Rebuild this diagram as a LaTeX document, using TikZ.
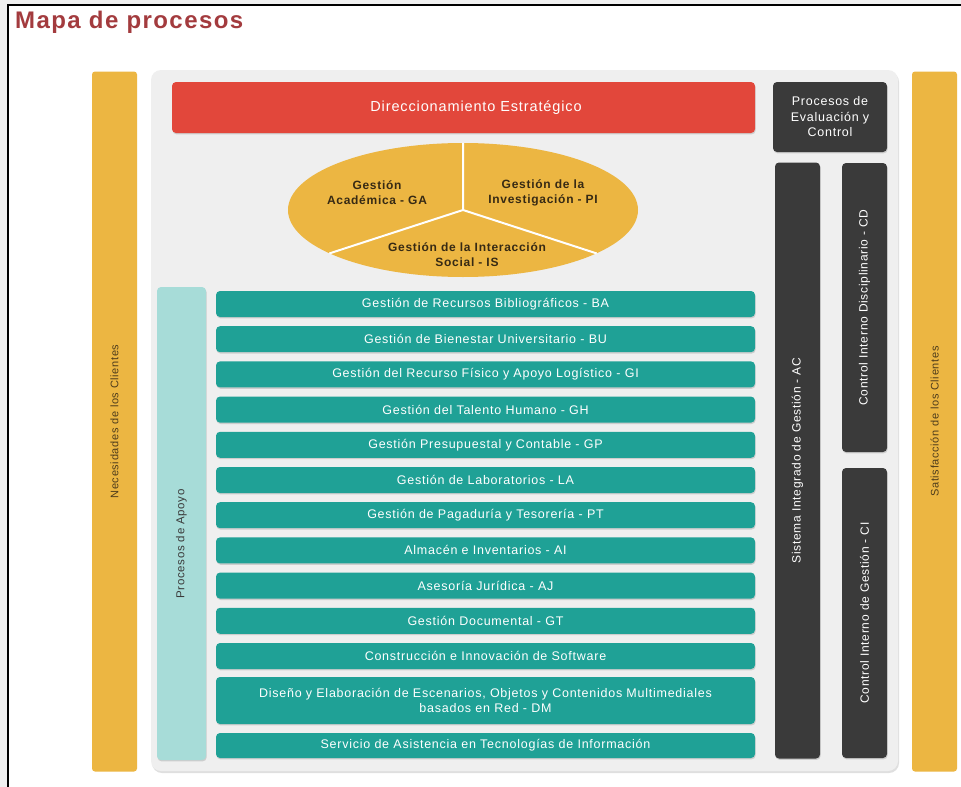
\documentclass[tikz,border=0pt]{standalone}
\usepackage{fontspec}
\setmainfont{Liberation Sans}[LetterSpace=6]
\usetikzlibrary{shapes.geometric,shadows}

\definecolor{fondo}{RGB}{240,240,240}
\definecolor{amarillo}{RGB}{236,182,66}
\definecolor{gris}{RGB}{239,239,239}
\definecolor{rojo}{RGB}{226,71,59}
\definecolor{oscuro}{RGB}{58,58,58}
\definecolor{verde}{RGB}{31,161,150}
\definecolor{verdeclaro}{RGB}{167,220,216}
\definecolor{titulo}{RGB}{163,59,62}
\definecolor{cafe}{RGB}{78,60,28}

\begin{document}
\begin{tikzpicture}[
    x=1pt, y=-1pt,
    sombra/.style={drop shadow={shadow xshift=.6pt, shadow yshift=-1.4pt, opacity=.3}},
    franja/.style={fill=amarillo, rounded corners=3pt, minimum width=45pt, minimum height=700pt, inner sep=0pt},
    texto franja/.style={rotate=90, text=cafe, font=\fontsize{11}{13}\selectfont},
    panel/.style={fill=gris, rounded corners=10pt, minimum width=747pt, minimum height=701pt,
        drop shadow={shadow xshift=1pt, shadow yshift=-2pt, opacity=.25}},
    caja/.style={sombra, rounded corners=4pt, inner sep=0pt, text=white},
    texto caja/.style={text=white, inner sep=0pt},
    columna/.style={caja, fill=oscuro, minimum width=45pt},
    texto columna/.style={rotate=90, text=white, font=\fontsize{12}{14}\selectfont},
    barra/.style={caja, fill=verde, minimum width=539pt, minimum height=26pt,
        align=center, font=\fontsize{12.5}{15}\selectfont},
    eje/.style={text=cafe!70!black, align=center, font=\bfseries\fontsize{12}{15}\selectfont}
]
\useasboundingbox (0,0) rectangle (961,787);
\fill[fondo] (0,0) rectangle (961,787);
\fill[white] (8,5) rectangle (961,787);
\draw[line width=2pt] (8,787) -- (8,5) -- (961,5);

\node[anchor=base west, inner sep=0pt, text=titulo, font=\bfseries\fontsize{24}{27}\selectfont] (titulo) at (15,28) {Mapa de procesos};

% clientes
\node[franja, label={[texto franja]center:Necesidades de los Clientes}] (necesidades) at (114.5,421.5) {};
\node[franja, label={[texto franja]center:Satisfacción de los Clientes}] (satisfaccion) at (934.5,421.5) {};

% panel central
\node[panel] (panel) at (524.5,420.5) {};

\node[caja, fill=rojo, minimum width=583pt, minimum height=51pt] (direccion) at (463.5,107.5) {};
\node[texto caja, font=\fontsize{14.5}{17}\selectfont] (direcciontexto) at (476,108) {Direccionamiento Estratégico};

\node[caja, fill=oscuro, minimum width=114pt, minimum height=70pt, align=center,
    font=\fontsize{12.5}{15.5}\selectfont] (evaluacion) at (830,117) {Procesos de\\Evaluación y\\Control};
\node[columna, minimum height=596pt, label={[texto columna]center:Sistema Integrado de Gestión - AC}] (ac) at (797.5,460.5) {};
\node[columna, minimum height=289pt, label={[texto columna]center:Control Interno Disciplinario - CD}] (cd) at (864.5,307.5) {};
\node[columna, minimum height=290pt, label={[texto columna]center:Control Interno de Gestión - CI}] (ci) at (864.5,613) {};

% procesos misionales
\node[ellipse, fill=amarillo, minimum width=350pt, minimum height=134pt, inner sep=0pt] (misionales) at (463,210) {};
\draw[white, line width=2pt] (misionales.center) -- (misionales.north)
    (misionales.center) -- (misionales.198)
    (misionales.center) -- (misionales.342);
\node[eje] (ga) at (377,193) {Gestión\\Académica - GA};
\node[eje] (pi) at (543,193) {Gestión de la\\Investigación - PI};
\node[eje] (is) at (467,255) {Gestión de la Interacción\\Social - IS};

% procesos de apoyo
\node[caja, fill=verdeclaro, minimum width=49pt, minimum height=473pt] (apoyo) at (181.5,523.5) {};
\node[rotate=90, text=oscuro, font=\fontsize{11.5}{13}\selectfont] (apoyotexto) at (181.5,544) {Procesos de Apoyo};

\node[barra] (ba) at (485.5,304) {Gestión de Recursos Bibliográficos - BA};
\node[barra] (bu) at (485.5,339.2) {Gestión de Bienestar Universitario - BU};
\node[barra] (gi) at (485.5,374.4) {Gestión del Recurso Físico y Apoyo Logístico - GI};
\node[barra] (gh) at (485.5,409.6) {Gestión del Talento Humano - GH};
\node[barra] (gp) at (485.5,444.8) {Gestión Presupuestal y Contable - GP};
\node[barra] (la) at (485.5,480) {Gestión de Laboratorios - LA};
\node[barra] (pt) at (485.5,515.2) {Gestión de Pagaduría y Tesorería - PT};
\node[barra] (ai) at (485.5,550.4) {Almacén e Inventarios - AI};
\node[barra] (aj) at (485.5,585.6) {Asesoría Jurídica - AJ};
\node[barra] (gt) at (485.5,620.8) {Gestión Documental - GT};
\node[barra] (sw) at (485.5,656) {Construcción e Innovación de Software};
\node[barra, minimum height=47pt] (dm) at (485.5,700.5) {Diseño y Elaboración de Escenarios, Objetos y Contenidos Multimediales\\basados en Red - DM};
\node[barra, minimum height=25pt] (sa) at (485.5,745.5) {Servicio de Asistencia en Tecnologías de Información};
\end{tikzpicture}
\end{document}
